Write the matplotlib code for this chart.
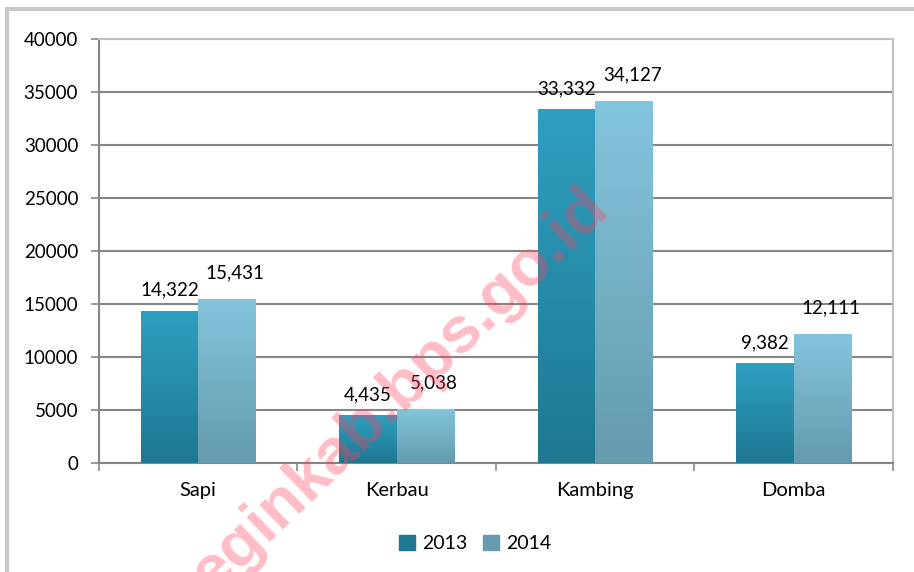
import numpy as np
import matplotlib
matplotlib.use("Agg")
import matplotlib.pyplot as plt
from matplotlib.colors import LinearSegmentedColormap
from matplotlib.patches import Rectangle

plt.rcParams['font.family'] = ['Lato', 'DejaVu Sans']

categories = ["Sapi", "Kerbau", "Kambing", "Domba"]
years = ["2013", "2014"]
v2013 = [14322, 4435, 33332, 9382]
v2014 = [15431, 5038, 34127, 12111]
yticks = [0, 5000, 10000, 15000, 20000, 25000, 30000, 35000, 40000]

# top colour, bottom colour for each series
grad = [("#2e9fc0", "#1e7891"), ("#83c5dd", "#659bad")]
# label offsets (points): dx, dy
lab_off = [(0, 15), (6, 19)]

fig = plt.figure(figsize=(9.14, 5.72), dpi=100)
ax = fig.add_axes([0.1083, 0.1906, 0.977 - 0.1083, 0.9318 - 0.1906])

x = np.arange(len(categories))
w = 0.29
series = [v2013, v2014]
for k, vals in enumerate(series):
    cmap = LinearSegmentedColormap.from_list("g%d" % k, [grad[k][1], grad[k][0]])
    offs = (k - 0.5) * w
    bars = ax.bar(x + offs, vals, w, color=grad[k][0], label=years[k], zorder=2)
    for b, v in zip(bars, vals):
        x0 = b.get_x()
        ax.imshow(np.linspace(0, 1, 100).reshape(-1, 1), cmap=cmap, origin="lower",
                  extent=(x0, x0 + w, 0, v), aspect="auto", zorder=3)
        ax.annotate("{:,}".format(v), (x0 + w / 2, v), xytext=lab_off[k],
                    textcoords="offset points", ha="center", va="center",
                    fontsize=13.5, color="black", zorder=5)

ax.set_xlim(-0.5, len(categories) - 0.5)
ax.set_ylim(0, 40000)
ax.set_yticks(yticks)
ax.set_yticklabels([str(t) for t in yticks])
ax.set_xticks(x)
ax.set_xticklabels(categories)
ax.set_xticks(np.arange(len(categories) + 1) - 0.5, minor=True)
ax.tick_params(axis="x", which="major", length=0, pad=14, labelsize=14.5)
ax.tick_params(axis="x", which="minor", length=6, width=1.2, color="#868686")
ax.tick_params(axis="y", length=6, width=1.2, color="#868686", labelsize=13.5, pad=9)
ax.grid(axis="y", color="#868686", lw=1.5, zorder=0)
ax.set_axisbelow(True)
for s in ["top", "right"]:
    ax.spines[s].set_color("#c0c0c0")
    ax.spines[s].set_linewidth(1.5)
for s in ["left", "bottom"]:
    ax.spines[s].set_color("#868686")
    ax.spines[s].set_linewidth(1.5)

leg = ax.legend(loc="upper center", bbox_to_anchor=(0.474, -0.128), ncol=2, frameon=False,
                fontsize=14, handlelength=0.8, handleheight=0.8, handletextpad=0.4,
                columnspacing=0.8)
for h, c in zip(leg.legend_handles, grad):
    h.set_color(c[1])

# watermark
fig.text(0.655, 0.652, "eginkab.bps.go.id", fontsize=47, fontweight="bold",
         color="#ff4060", alpha=0.35, rotation=44, ha="right", va="center",
         rotation_mode="anchor", family=["Liberation Sans", "DejaVu Sans"], zorder=10)

fig.patches.append(Rectangle((0.0077, -0.1), 1.2, 1.084, transform=fig.transFigure,
                             fill=False, edgecolor="#c8c8c8", lw=3))

fig.savefig("out.png", dpi=100)
